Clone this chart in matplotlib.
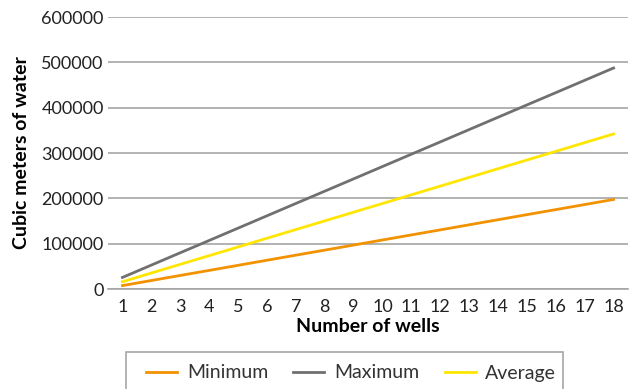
import matplotlib
matplotlib.use("Agg")
import matplotlib.pyplot as plt
from matplotlib.patches import Rectangle

# data
wells = list(range(1, 19))
minimum = [7500, 18700, 29900, 41000, 52200, 63400, 74600, 85700, 96900,
           108100, 119300, 130400, 141600, 152800, 164000, 175100, 186300, 197500]
maximum = [25500, 52700, 79900, 107000, 134200, 161400, 188600, 215700, 242900,
           270100, 297300, 324400, 351600, 378800, 406000, 433100, 460300, 487500]
average = [16000, 35200, 54400, 73500, 92700, 111900, 131100, 150200, 169400,
           188600, 207800, 226900, 246100, 265300, 284500, 303600, 322800, 342000]
y_ticks = [0, 100000, 200000, 300000, 400000, 500000, 600000]

plt.rcParams["font.family"] = ["Lato", "DejaVu Sans"]

W, H = 629, 389
fig = plt.figure(figsize=(W / 100, H / 100), dpi=100)
ax = fig.add_axes([108 / W, 1 - 289 / H, 520 / W, 272 / H])

ax.plot(wells, minimum, color="#F39200", lw=2.0, label="Minimum")
ax.plot(wells, maximum, color="#707070", lw=2.0, label="Maximum")
ax.plot(wells, average, color="#FFE600", lw=2.0, label="Average")

ax.set_xlim(0.5, 18.5)
ax.set_ylim(0, 600000)
ax.set_xticks(wells)
ax.set_yticks(y_ticks)
ax.set_yticklabels([str(v) for v in y_ticks])
ax.tick_params(axis="both", length=0, labelsize=13, colors="#222222")
ax.tick_params(axis="x", pad=7)
ax.tick_params(axis="y", pad=3)
ax.grid(axis="y", color="#A6A6A6", lw=1.2)
ax.set_axisbelow(True)
for s in ["top", "right", "left"]:
    ax.spines[s].set_visible(False)
ax.spines["bottom"].set_color("#A6A6A6")
ax.spines["bottom"].set_linewidth(1.2)

ax.set_xlabel("Number of wells", fontsize=14, fontweight="bold", labelpad=2)
ax.set_ylabel("Cubic meters of water", fontsize=14, fontweight="bold", labelpad=8)

# legend box runs off the bottom edge like in the source image
fig.patches.append(Rectangle((126 / W, -0.05), (563 - 126) / W, 0.05 + (389 - 352) / H,
                             transform=fig.transFigure, facecolor="white",
                             edgecolor="#A6A6A6", lw=1.2, zorder=0))
leg = fig.legend(loc="center left", bbox_to_anchor=(146 / W, 1 - 373 / H),
                 borderaxespad=0, borderpad=0, ncol=3, fontsize=14, frameon=False,
                 handlelength=1.6, handletextpad=0.5, columnspacing=1.3)
for t in leg.get_texts():
    t.set_color("#333333")

fig.savefig("out.png", dpi=100)
